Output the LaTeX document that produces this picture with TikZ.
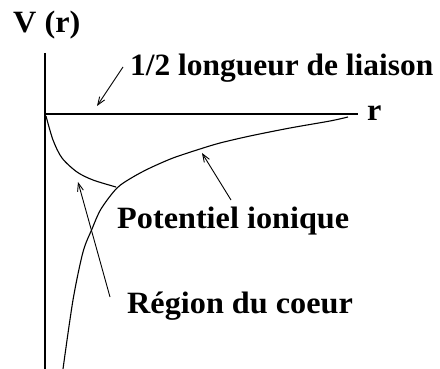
\documentclass[tikz,border=0pt]{standalone}
\usepackage{fontspec}
\setmainfont{Liberation Serif}
\usetikzlibrary{arrows.meta}
\begin{document}
\begin{tikzpicture}[x=1pt,y=-1pt,
  lbl/.style={font=\fontsize{31}{36}\selectfont\bfseries, inner sep=0pt, anchor=base west, xscale=1.04},
  axis/.style={line width=1.3pt},
  curve/.style={line width=1.1pt},
  pointer/.style={line width=0.9pt, -{Straight Barb[length=8pt,width=6pt]}}]
\useasboundingbox (0,0) rectangle (440,369);
% axes
\coordinate (O) at (45,114);
\coordinate (ytop) at (45,53);
\coordinate (ybot) at (45,369);
\coordinate (xend) at (358,114);
\draw[axis] (ytop) -- (ybot);
\draw[axis] (O) -- (xend);
% labels
\node[lbl] (V) at (13,33) {V (r)};
\node[lbl] (r) at (367,121) {r};
\node[lbl, xscale=0.975] (liaison) at (130,76) {1/2 longueur de liaison};
\node[lbl] (pot) at (117,229) {Potentiel ionique};
\node[lbl] (coeur) at (127,313) {Région du coeur};
% curves
\draw[curve] plot[smooth, tension=0.5] coordinates {(46,116) (53,140) (62,158) (77,172) (93,180) (116,187)};
\draw[curve] plot[smooth, tension=0.5] coordinates {(63,369) (73,300) (83,252) (92,229) (101,209) (117,188) (133,177) (150,168) (173,158) (200,149) (220,143) (250,136) (290,128) (330,121) (348,117)};
% arrows
\coordinate (a1s) at (123,67); \coordinate (a1e) at (97,106);
\coordinate (a2s) at (231,200); \coordinate (a2e) at (202,153);
\coordinate (a3s) at (110,297); \coordinate (a3e) at (78,182);
\draw[pointer] (a1s) -- (a1e);
\draw[pointer] (a2s) -- (a2e);
\draw[pointer] (a3s) -- (a3e);
\end{tikzpicture}
\end{document}
